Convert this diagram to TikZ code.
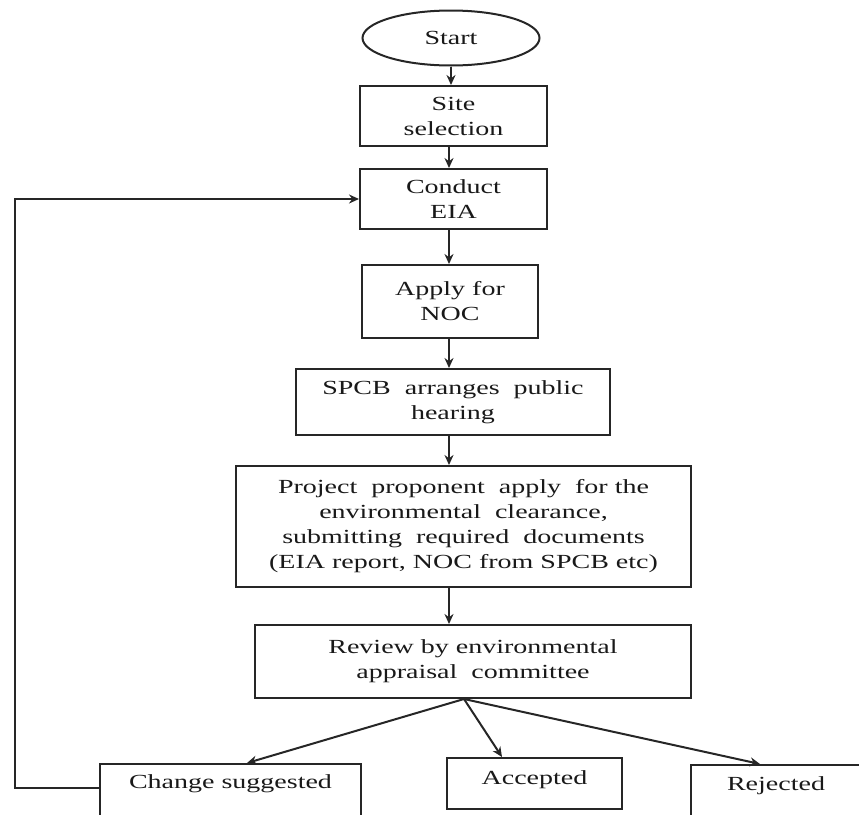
\documentclass[tikz,border=0pt]{standalone}
\usepackage{fontspec}
\setmainfont{Liberation Serif}[FakeStretch=1.4]
\usetikzlibrary{shapes.geometric,arrows.meta}
\begin{document}
\begin{tikzpicture}[x=1pt,y=-1pt,
  box/.style={draw=black!85, line width=2pt, rectangle, align=center,
    font=\fontsize{20}{25}\selectfont, inner sep=0pt, text=black!90},
  arr/.style={draw=black!85, line width=2pt, -{Stealth[length=10pt,width=9pt]}},
]
\useasboundingbox (0,0) rectangle (859,814);
\coordinate (spine) at (449,0);
\coordinate (splitx) at (464,0);
\coordinate (tipc) at (247,0);
\coordinate (tipa) at (502,0);
\coordinate (tipr) at (760,0);
\coordinate (fb) at (15,788);

\node[box, ellipse, minimum width=177pt, minimum height=55pt] (start) at (451,38) {Start};
\node[box, minimum width=187pt, minimum height=60pt] (site) at (453.5,116) {Site\\selection};
\node[box, minimum width=187pt, minimum height=60pt] (conduct) at (453.5,199) {Conduct\\EIA};
\node[box, minimum width=176pt, minimum height=73pt] (apply) at (450,301.5) {Apply for\\NOC};
\node[box, minimum width=314pt, minimum height=66pt] (spcb) at (453,402) {SPCB\ \ arranges\ \ public\\hearing};
\node[box, minimum width=455pt, minimum height=121pt] (project) at (463.5,526.5)
  {Project\ \ proponent\ \ apply\ \ for the\\environmental\ \ clearance,\\submitting\ \ required\ \ documents\\(EIA report, NOC from SPCB etc)};
\node[box, minimum width=436pt, minimum height=73pt] (review) at (473,661.5) {Review by environmental\\appraisal\ \ committee};

\node[box, anchor=north, minimum width=261pt, text height=24pt, text depth=50pt] (change) at (230.5,763) {Change suggested};
\node[box, anchor=north, minimum width=175pt, text height=26pt, text depth=25pt] (accepted) at (534.5,757) {Accepted};
\node[box, anchor=north, minimum width=171pt, text height=25pt, text depth=50pt] (rejected) at (776,764) {Rejected};

\draw[arr] (start.south) -- (site.north -| start.south);
\draw[arr] (site.south -| spine) -- (conduct.north -| spine);
\draw[arr] (conduct.south -| spine) -- (apply.north -| spine);
\draw[arr] (apply.south -| spine) -- (spcb.north -| spine);
\draw[arr] (spcb.south -| spine) -- (project.north -| spine);
\draw[arr] (project.south -| spine) -- (review.north -| spine);

\draw[arr] (review.south -| splitx) -- (change.north -| tipc);
\draw[arr] (review.south -| splitx) -- (accepted.north -| tipa);
\draw[arr] (review.south -| splitx) -- (rejected.north -| tipr);

\draw[arr] (change.west |- fb) -- (fb) -- (fb |- conduct.west) -- (conduct.west);
\end{tikzpicture}
\end{document}
